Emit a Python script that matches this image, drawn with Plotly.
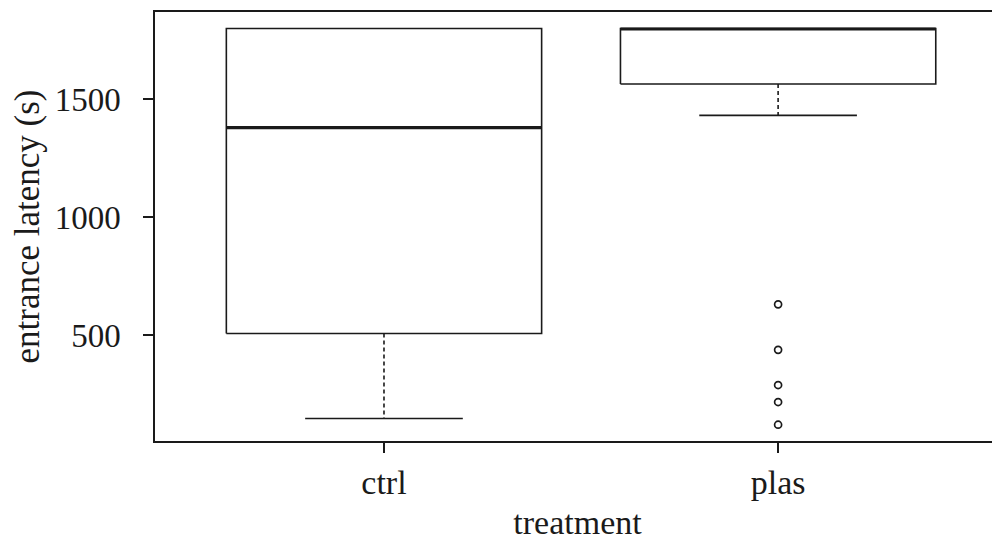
import plotly.graph_objects as go

# ---- data ----
categories = ["ctrl", "plas"]
q1 = [508, 1565]
median = [1380, 1798]
q3 = [1800, 1800]
lower_whisker = [148, 1432]
upper_whisker = [1800, 1800]
outlier_cat = ["plas", "plas", "plas", "plas", "plas"]
outlier_vals = [632, 439, 290, 218, 122]
y_ticks = [500, 1000, 1500]

# ---- style ----
FONT = "Liberation Serif"
INK = "#1a1a1a"
BOX_HALF = 0.4
CAP_HALF = 0.2
pos = {c: i + 1 for i, c in enumerate(categories)}

fig = go.Figure()
for i, c in enumerate(categories):
    p = pos[c]
    # box
    fig.add_trace(go.Scatter(
        x=[p - BOX_HALF, p + BOX_HALF, p + BOX_HALF, p - BOX_HALF, p - BOX_HALF],
        y=[q1[i], q1[i], q3[i], q3[i], q1[i]],
        mode="lines", line=dict(color=INK, width=1.6), hoverinfo="skip"))
    # lower whisker (dashed)
    fig.add_trace(go.Scatter(
        x=[p, p], y=[q1[i], lower_whisker[i]], mode="lines",
        line=dict(color=INK, width=1.6, dash="4px,3px"), hoverinfo="skip"))
    # upper whisker (dashed)
    fig.add_trace(go.Scatter(
        x=[p, p], y=[q3[i], upper_whisker[i]], mode="lines",
        line=dict(color=INK, width=1.6, dash="4px,3px"), hoverinfo="skip"))
    # caps
    fig.add_trace(go.Scatter(
        x=[p - CAP_HALF, p + CAP_HALF], y=[lower_whisker[i], lower_whisker[i]],
        mode="lines", line=dict(color=INK, width=1.6), hoverinfo="skip"))
    # median
    fig.add_trace(go.Scatter(
        x=[p - BOX_HALF, p + BOX_HALF], y=[median[i], median[i]],
        mode="lines", line=dict(color=INK, width=3.2), hoverinfo="skip"))

# outliers
fig.add_trace(go.Scatter(
    x=[pos[c] for c in outlier_cat], y=outlier_vals, mode="markers",
    marker=dict(symbol="circle-open", size=7, color=INK, line=dict(width=1.7)),
    hoverinfo="skip"))

# page body adds an 8px offset, so the figure is 8px smaller and margins shifted
fig.update_layout(
    width=992, height=533,
    margin=dict(l=147, r=0, t=4, b=100),
    plot_bgcolor="white", paper_bgcolor="white",
    showlegend=False,
    font=dict(family=FONT, color=INK, size=33),
)
fig.update_xaxes(
    range=[0.419, 2.563], tickvals=[pos[c] for c in categories], ticktext=categories,
    showline=True, mirror=True, linecolor=INK, linewidth=1.5,
    ticks="outside", ticklen=10, tickwidth=1.5, tickcolor=INK,
    showgrid=False, zeroline=False, ticklabelstandoff=0, automargin=True,
    tickfont=dict(family=FONT, size=34, color=INK),
    title=dict(text="treatment", font=dict(family=FONT, size=34, color=INK), standoff=12),
)
fig.update_yaxes(
    range=[53, 1870], tickvals=y_ticks, ticktext=[str(v) for v in y_ticks],
    showline=True, mirror=False, linecolor=INK, linewidth=1.5,
    ticks="outside", ticklen=10, tickwidth=1.5, tickcolor=INK,
    showgrid=False, zeroline=False, ticklabelstandoff=16, automargin=False,
    tickfont=dict(family=FONT, size=33, color=INK),
    title=dict(text="entrance latency (s)", font=dict(family=FONT, size=35, color=INK), standoff=10),
)

fig.write_html("out.html")
